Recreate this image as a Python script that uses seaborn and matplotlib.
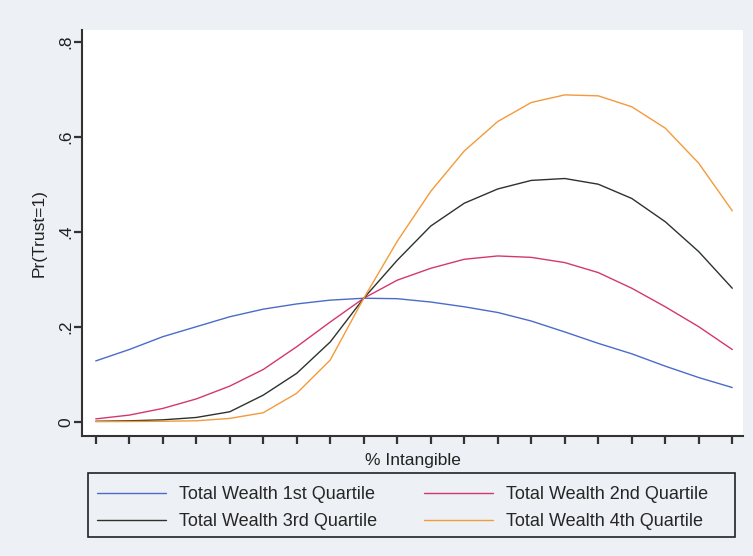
import numpy as np
import pandas as pd
import matplotlib
matplotlib.use("Agg")
import matplotlib.pyplot as plt
import seaborn as sns
from matplotlib.patches import Rectangle

# x grid: 20 evenly spaced points of % Intangible (no tick labels in the original)
intangible = [0, 1, 2, 3, 4, 5, 6, 7, 8, 9, 10, 11, 12, 13, 14, 15, 16, 17, 18, 19]

q1 = [0.128, 0.152, 0.179, 0.200, 0.221, 0.237, 0.248, 0.256, 0.260, 0.259,
      0.252, 0.242, 0.230, 0.212, 0.189, 0.165, 0.143, 0.117, 0.093, 0.072]
q2 = [0.006, 0.014, 0.028, 0.048, 0.075, 0.110, 0.158, 0.210, 0.260, 0.298,
      0.323, 0.342, 0.349, 0.346, 0.335, 0.314, 0.281, 0.242, 0.200, 0.152]
q3 = [0.001, 0.002, 0.004, 0.009, 0.021, 0.056, 0.102, 0.168, 0.260, 0.340,
      0.412, 0.460, 0.490, 0.508, 0.512, 0.500, 0.470, 0.421, 0.358, 0.281]
q4 = [0.0002, 0.0005, 0.001, 0.002, 0.007, 0.019, 0.060, 0.130, 0.260, 0.380,
      0.485, 0.570, 0.632, 0.672, 0.688, 0.686, 0.663, 0.618, 0.544, 0.444]

labels = ["Total Wealth 1st Quartile", "Total Wealth 2nd Quartile",
          "Total Wealth 3rd Quartile", "Total Wealth 4th Quartile"]
colors = ["#4a6cc8", "#d4376f", "#2c332c", "#f39a3c"]

df = pd.DataFrame({
    "x": intangible * 4,
    "p": q1 + q2 + q3 + q4,
    "group": [lab for lab in labels for _ in intangible],
})

sns.set_style("white")
plt.rcParams["font.family"] = ["Liberation Sans", "DejaVu Sans"]
fs = 12.5

fig = plt.figure(figsize=(7.53, 5.56), dpi=100, facecolor="#edf0f4")
ax = fig.add_axes([82 / 753, 1 - 436 / 556, 661 / 753, 406 / 556])
ax.set_facecolor("white")

sns.lineplot(data=df, x="x", y="p", hue="group", hue_order=labels,
             palette=colors, linewidth=1.0, ax=ax, legend=False)

ax.set_xlim(-0.41, 19.32)
ax.set_ylim(-0.030, 0.8246)
ax.set_xticks(intangible)
ax.set_xticklabels([])
ax.set_yticks([0, 0.2, 0.4, 0.6, 0.8])
ax.set_yticklabels(["0", ".2", ".4", ".6", ".8"], rotation=90, va="center")
ax.tick_params(axis="both", direction="out", length=6, width=1.6,
               color="#333333", labelsize=fs, labelcolor="#222222",
               bottom=True, left=True)
ax.tick_params(axis="y", pad=0)
for s in ["top", "right"]:
    ax.spines[s].set_visible(False)
for s in ["left", "bottom"]:
    ax.spines[s].set_color("#333333")
    ax.spines[s].set_linewidth(1.5)

ax.set_xlabel("% Intangible", fontsize=fs, color="#222222", labelpad=3)
ax.set_ylabel("Pr(Trust=1)", fontsize=fs, color="#222222", labelpad=9)

# legend filled row by row like the original (1st, 2nd / 3rd, 4th)
handles = [plt.Line2D([], [], color=c, linewidth=1.0) for c in colors]
order = [0, 2, 1, 3]
fig.legend([handles[i] for i in order], [labels[i] for i in order],
           loc="upper left", ncol=2, frameon=False,
           bbox_to_anchor=(97 / 753, 1 - 486 / 556), borderaxespad=0,
           borderpad=0, fontsize=13, handlelength=3.8, handletextpad=0.75,
           columnspacing=2.6, labelspacing=0.55)
fig.patches.append(Rectangle((88 / 753, 1 - 537 / 556), 647 / 753, 64 / 556,
                             transform=fig.transFigure, fill=False,
                             edgecolor="#222222", linewidth=1.2))

fig.savefig("out.png", dpi=100, facecolor=fig.get_facecolor())
